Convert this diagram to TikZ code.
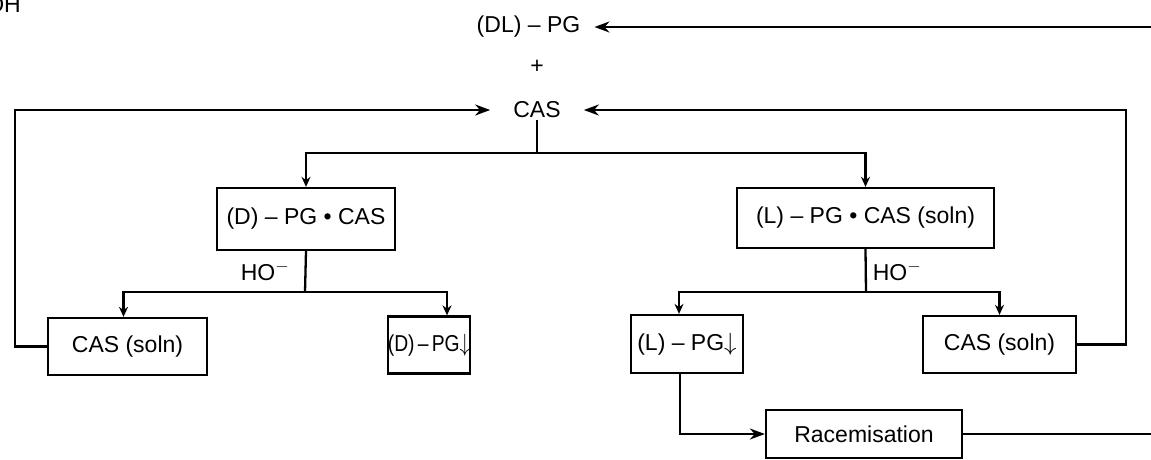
\documentclass[tikz,border=0pt]{standalone}
\usepackage{fontspec}
\setmainfont{Liberation Sans}
\usetikzlibrary{arrows.meta,calc}
\begin{document}
\begin{tikzpicture}[x=1pt,y=-1pt,
  every node/.style={font=\fontsize{23}{27}\selectfont},
  line/.style={line width=2.3pt},
  arr/.style={-{Stealth[length=15pt,width=11pt]}, line width=2.3pt},
  sarr/.style={-{Stealth[length=10pt,width=9pt]}, line width=2.3pt},
  boxn/.style={draw, line width=2.3pt, inner sep=0pt}]
\useasboundingbox (0,0) rectangle (1151,459);
% cropped fragment
\node[anchor=base east, inner sep=0pt] (frag) at (21,12) {OH};
% text nodes
\node[inner xsep=14pt] (dlpg) at (528.5,27) {(DL) – PG};
\node (plus) at (537,67) {+};
\node[inner xsep=23pt, inner ysep=2pt] (cas) at (537,110) {CAS};
% boxes
\node[boxn, minimum width=178pt, minimum height=62pt] (dbox) at (306,219) {(D) – PG • CAS};
\node[boxn, minimum width=257pt, minimum height=60pt] (lbox) at (865.5,218) {(L) – PG • CAS (soln)};
\node[boxn, minimum width=159pt, minimum height=57pt] (cas1) at (127.5,346.5) {CAS (soln)};
\node[boxn, minimum width=82pt, minimum height=57pt] (dpg) at (429,345) {\scalebox{0.84}[1]{(D)\,–\,PG$\downarrow$}};
\node[boxn, minimum width=112pt, minimum height=58pt] (lpg) at (687,344) {(L) – PG$\downarrow$};
\node[boxn, minimum width=153pt, minimum height=57pt] (cas2) at (999.5,344.5) {CAS (soln)};
\node[boxn, minimum width=196pt, minimum height=48pt] (rac) at (864,434) {Racemisation};
% labels
\node (ho1) at (265,271) {HO$^{-}$};
\node (ho2) at (897,271) {HO$^{-}$};
% coordinates
\coordinate (e1) at (1151,27);
\coordinate (e2) at (1151,434);
\coordinate (j1) at (537,153);
\coordinate (j2) at (305,292);
\coordinate (j3) at (866,292);
\coordinate (lx) at (15,0);
\coordinate (rx) at (1126,0);
% connectors
\draw[arr] (e1) -- (dlpg.east);
\draw[arr] (cas1.west) -- (lx |- cas1.west) |- (cas.west);
\draw[arr] (cas2.east) -- (rx |- cas2.east) |- (cas.east);
\draw[line] (cas.south) -- (j1);
\draw[sarr] (j1) -| (dbox.north);
\draw[sarr] (j1) -| (lbox.north);
\draw[line] (dbox.south) -- (j2);
\draw[sarr] (j2) -| ([xshift=-4pt]cas1.north);
\draw[sarr] (j2) -| ([xshift=18pt]dpg.north);
\draw[line] (lbox.south) -- (j3);
\draw[sarr] (j3) -| ([xshift=-8pt]lpg.north);
\draw[sarr] (j3) -| (cas2.north);
\draw[arr] ([xshift=-7pt]lpg.south) |- (rac.west);
\draw[line] (rac.east) -- (e2);
\end{tikzpicture}
\end{document}
